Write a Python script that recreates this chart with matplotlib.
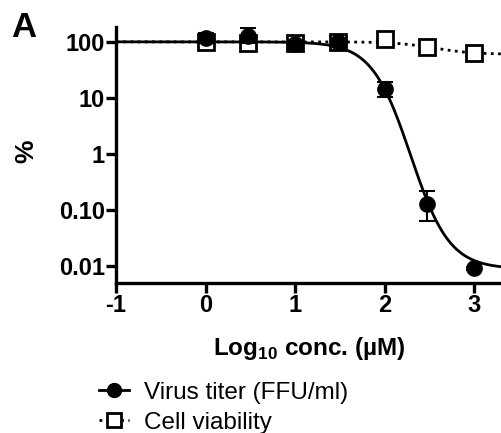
import numpy as np
import matplotlib
matplotlib.use("Agg")
import matplotlib.pyplot as plt
from matplotlib.ticker import FixedLocator, NullLocator
from matplotlib.lines import Line2D

plt.rcParams['font.family'] = ['Liberation Sans', 'DejaVu Sans']
plt.rcParams['mathtext.fontset'] = 'custom'
plt.rcParams['mathtext.rm'] = 'Liberation Sans'
plt.rcParams['mathtext.bf'] = 'Liberation Sans:bold'

# Data
conc_uM = [1, 3, 10, 30, 100, 300, 1000]
virus_titer = [118, 125, 90, 100, 14.5, 0.13, 0.0092]
virus_err_low = [20, 30, 15, 10, 4.0, 0.065, 0.0005]
virus_err_high = [25, 55, 15, 10, 4.5, 0.09, 0.0005]
cell_viability = [100, 95, 95, 100, 112, 80, 63]
cell_err = [8, 8, 6, 6, 6, 5, 5]

# Fit parameters (4PL)
virus_fit = dict(top=2.0, bottom=np.log10(0.009), logic50=2.29, hill=2.0)
cell_fit = dict(top=100.0, bottom=60.0, logic50=2.5, hill=2.0)

xticks = [-1, 0, 1, 2, 3]
ytick_vals = [0.01, 0.1, 1, 10, 100]
ytick_labels = ['0.01', '0.10', '1', '10', '100']

fig = plt.figure(figsize=(5.02, 4.33), dpi=100)
ax = fig.add_axes([0.231, 0.346, 0.769, 0.592])

xlog = np.log10(conc_uM)
xs = np.linspace(-1, 3.4, 400)

vf = virus_fit
vy = 10 ** (vf['bottom'] + (vf['top'] - vf['bottom']) / (1 + 10 ** ((xs - vf['logic50']) * vf['hill'])))
cf = cell_fit
cy = cf['bottom'] + (cf['top'] - cf['bottom']) / (1 + 10 ** ((xs - cf['logic50']) * cf['hill']))

dot = (0, (1, 1.6))
ax.plot(xs, cy, color='black', lw=2, linestyle=dot, zorder=2)
ax.errorbar(xlog, cell_viability, yerr=cell_err, fmt='s', ms=12, mfc='white',
            mec='black', mew=2, ecolor='black', elinewidth=1.5, capsize=0, zorder=3)
ax.plot(xs, vy, color='black', lw=2, zorder=4)
ax.errorbar(xlog, virus_titer, yerr=[virus_err_low, virus_err_high], fmt='o', ms=11,
            mfc='black', mec='black', ecolor='black', elinewidth=1.5, capsize=6,
            capthick=1.5, zorder=5)

ax.set_yscale('log')
ax.set_xlim(-1, 3.31)
ax.set_ylim(0.005, 185)
ax.yaxis.set_major_locator(FixedLocator(ytick_vals))
ax.yaxis.set_minor_locator(NullLocator())
ax.set_yticklabels(ytick_labels)
ax.set_xticks(xticks)
ax.set_xticklabels([str(t) for t in xticks])

for s in ['top', 'right']:
    ax.spines[s].set_visible(False)
for s in ['left', 'bottom']:
    ax.spines[s].set_linewidth(2.4)
ax.tick_params(axis='both', which='major', length=7, width=2.4, labelsize=17, pad=1)
for lab in ax.get_xticklabels() + ax.get_yticklabels():
    lab.set_fontweight('bold')

ax.set_xlabel(r'Log$_{\mathbf{10}}$ conc. (µM)', fontsize=17.5, fontweight='bold', labelpad=13)
fig.text(0.052, 0.651, '%', fontsize=19, fontweight='bold', rotation=90,
         ha='center', va='center')

fig.text(0.022, 0.975, 'A', fontsize=25, fontweight='bold', va='top', ha='left')

h1 = Line2D([], [], color='black', lw=2, marker='o', ms=10, mfc='black')
h2 = Line2D([], [], color='black', lw=2, linestyle=dot, marker='s', ms=10,
            mfc='white', mec='black', mew=2)
fig.legend([h1, h2], ['Virus titer (FFU/ml)', 'Cell viability'], loc='upper left',
           bbox_to_anchor=(0.197, 0.118), frameon=False, fontsize=17.5, handlelength=1.25,
           handletextpad=0.6, labelspacing=0.32, borderaxespad=0, borderpad=0)

fig.savefig('out.png', dpi=100)
